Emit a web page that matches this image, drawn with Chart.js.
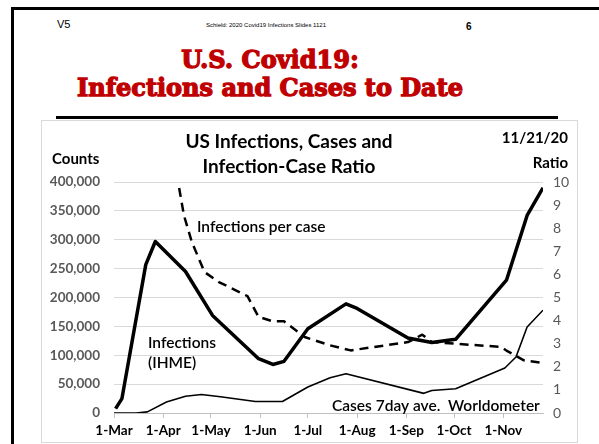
<!DOCTYPE html>
<html>
<head>
<meta charset="utf-8">
<script src="https://cdn.jsdelivr.net/npm/chart.js@4"></script>
<style>
    body { margin: 0; width: 599px; height: 444px; overflow: hidden; background: #fff; position: relative; font-family: "Liberation Sans", Arial, sans-serif; }
    #slide { position: absolute; left: 11px; top: 7px; width: 800px; height: 600px; border: 3px solid #000; }
    .txt { position: absolute; white-space: nowrap; }
    #v5 { left: 57px; top: 18px; font-size: 11px; }
    #src { left: 266px; top: 22px; font-size: 6px; transform: translateX(-50%); }
    #pg { left: 466px; top: 21px; font-size: 10px; font-weight: bold; }
    .rojo { left: 270px; transform: translateX(-50%); color: #c00000; font-family: "DejaVu Serif", serif; font-weight: bold; font-size: 24px; -webkit-text-stroke: 1.3px #c00000; letter-spacing: 0px; }
    #t1 { top: 45px; }
    #t2 { top: 73px; }
    #raya { position: absolute; left: 56px; top: 116px; width: 502px; height: 3px; background: #000; }
    #caja { position: absolute; left: 41px; top: 120px; width: 537px; height: 323px; border: 1px solid #d9d9d9; box-sizing: border-box; }
    #grafico { position: absolute; left: 41px; top: 120px; }
</style>
</head>
<body>
<div id="slide"></div>
<div class="txt" id="v5">V5</div>
<div class="txt" id="src">Schield: 2020 Covid19 Infections Slides 1121</div>
<div class="txt" id="pg">6</div>
<div class="txt rojo" id="t1">U.S. Covid19:</div>
<div class="txt rojo" id="t2">Infections and Cases to Date</div>
<div id="raya"></div>
<div id="caja"></div>
<canvas id="grafico" width="537" height="323"></canvas>
<script>
// dias desde 1-Mar
let mesesDias = [0, 31, 61, 92, 122, 153, 184, 214, 245]
let mesesTexto = ['1-Mar', '1-Apr', '1-May', '1-Jun', '1-Jul', '1-Aug', '1-Sep', '1-Oct', '1-Nov']

// infecciones (IHME), eje izquierdo
let infDias = [1, 5, 20, 26, 45, 62, 91, 100, 107, 122, 146, 153, 185, 200, 215, 247, 260, 270]
let infValores = [7600, 25000, 257000, 297000, 245000, 169000, 94000, 84000, 89500, 146000, 189000, 181000, 130000, 122000, 127600, 230000, 342000, 390000]

// infecciones por caso, eje derecho
let ratioDias = [41, 44, 49, 57, 66, 84, 91, 100, 107, 120, 136, 149, 185, 194, 200, 244, 247, 258, 269]
let ratioValores = [9.74, 8.56, 7.4, 6.1, 5.67, 5.06, 4.16, 3.97, 3.97, 3.29, 2.93, 2.71, 3.07, 3.39, 3.07, 2.86, 2.7, 2.28, 2.18]

// casos promedio 7 dias (Worldometer), eje izquierdo
let casosDias = [0, 14, 21, 33, 45, 55, 67, 89, 106, 122, 136, 146, 195, 200, 215, 246, 253, 260, 270]
let casosValores = [0, 0, 2000, 19000, 29000, 32000, 28000, 20000, 20000, 45000, 61000, 68000, 34000, 39000, 42000, 78000, 97000, 149000, 178000]

function puntos(dias, valores) {
    return dias.map((d, i) => ({ x: d, y: valores[i] }))
}

const gris = '#595959'

const textos = {
    id: 'textos',
    afterDraw(chart) {
        const ctx = chart.ctx
        ctx.save()
        ctx.fillStyle = '#000'
        ctx.textBaseline = 'middle'
        ctx.textAlign = 'center'
        ctx.font = 'bold 19px Lato'
        ctx.fillText('US Infections, Cases and', 248, 22)
        ctx.fillText('Infection-Case Ratio', 248, 47)
        ctx.textAlign = 'left'
        ctx.font = 'bold 15px Lato'
        ctx.fillText('Counts', 11, 39)
        ctx.textAlign = 'right'
        ctx.fillText('11/21/20', 527, 18)
        ctx.fillText('Ratio', 527, 43)
        ctx.textAlign = 'left'
        ctx.font = '600 15.5px Lato'
        ctx.fillText('Infections per case', 156, 107)
        ctx.fillText('Infections', 107, 223)
        ctx.fillText('(IHME)', 107, 243)
        ctx.fillText('Cases 7day ave.  Worldometer', 291, 286)
        ctx.restore()
    }
}

const config = {
    type: 'line',
    data: {
        datasets: [
            {
                data: puntos(infDias, infValores),
                borderColor: '#000',
                borderWidth: 3.5,
                yAxisID: 'y'
            },
            {
                data: puntos(ratioDias, ratioValores),
                borderColor: '#000',
                borderWidth: 2.5,
                borderDash: [9, 6],
                yAxisID: 'y1'
            },
            {
                data: puntos(casosDias, casosValores),
                borderColor: '#000',
                borderWidth: 1.6,
                yAxisID: 'y'
            }
        ]
    },
    options: {
        responsive: false,
        animation: false,
        elements: { point: { radius: 0 }, line: { tension: 0, borderJoinStyle: 'round' } },
        layout: { padding: { top: 62, left: 0, right: 0, bottom: 0 } },
        plugins: { legend: { display: false }, tooltip: { enabled: false } },
        scales: {
            x: {
                type: 'linear',
                min: 0,
                max: 270,
                afterBuildTicks: (ax) => { ax.ticks = mesesDias.map(d => ({ value: d })) },
                afterFit: (ax) => { ax.height = 30 },
                ticks: {
                    color: '#000',
                    font: { family: 'Lato', size: 13.5, weight: 'bold' },
                    maxRotation: 0,
                    padding: 5,
                    callback: (v) => mesesTexto[mesesDias.indexOf(v)]
                },
                grid: { drawOnChartArea: false, drawTicks: true, tickLength: 5, color: '#bfbfbf' },
                border: { color: '#bfbfbf' }
            },
            y: {
                position: 'left',
                min: 0,
                max: 400000,
                afterFit: (ax) => { ax.width = 73 },
                ticks: {
                    stepSize: 50000,
                    color: gris,
                    padding: 14,
                    font: { family: 'Lato', size: 13.5, weight: 'bold' },
                    callback: (v) => v.toLocaleString('en-US')
                },
                grid: { color: '#d9d9d9', drawTicks: false },
                border: { display: false }
            },
            y1: {
                position: 'right',
                min: 0,
                max: 10,
                afterFit: (ax) => { ax.width = 35 },
                ticks: {
                    stepSize: 1,
                    color: gris,
                    padding: 10,
                    font: { family: 'Lato', size: 14 }
                },
                grid: { drawOnChartArea: false, drawTicks: false },
                border: { display: false }
            }
        }
    },
    plugins: [textos]
}

let myChart = new Chart(document.getElementById('grafico'), config)
</script>
</body>
</html>
